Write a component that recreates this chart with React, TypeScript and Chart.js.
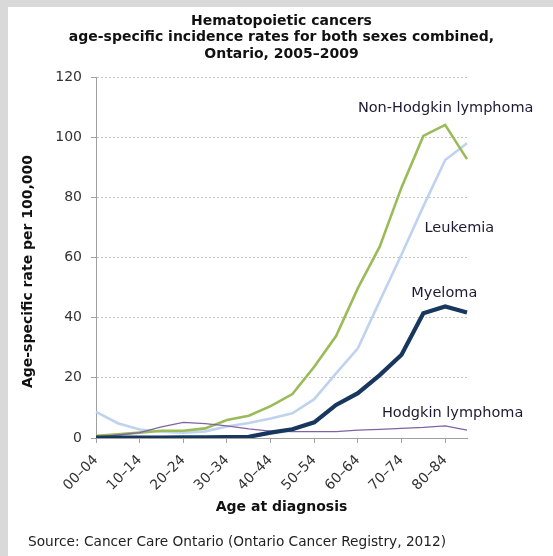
import { useEffect, useRef } from "react";
import { Chart, registerables } from "chart.js";

Chart.register(...registerables);

const categories = ["00–04", "05–09", "10–14", "15–19", "20–24", "25–29", "30–34", "35–39", "40–44", "45–49", "50–54", "55–59", "60–64", "65–69", "70–74", "75–79", "80–84", "85+"];
const nonHodgkin = [0.7, 1.2, 1.8, 2.4, 2.4, 3.2, 6.0, 7.4, 10.6, 14.6, 23.7, 33.9, 49.8, 63.6, 83.3, 100.4, 104.1, 92.7];
const leukemia = [8.7, 4.9, 2.8, 2.1, 1.8, 2.2, 3.8, 5.0, 6.5, 8.2, 12.9, 21.5, 29.8, 45.5, 61.0, 77.0, 92.4, 98.0];
const myeloma = [0.1, 0.1, 0.1, 0.1, 0.2, 0.2, 0.3, 0.4, 1.8, 2.9, 5.2, 11.0, 14.9, 20.9, 27.7, 41.5, 43.7, 41.7];
const hodgkin = [0.3, 1.0, 1.8, 3.7, 5.2, 4.8, 4.0, 3.0, 2.3, 2.1, 2.1, 2.1, 2.6, 2.9, 3.2, 3.5, 4.0, 2.6];
const yMin = 0;
const yMax = 120;
const yStep = 20;

const seriesNames = ["Non-Hodgkin lymphoma", "Leukemia", "Myeloma", "Hodgkin lymphoma"];
const labelAnchorIndex = [12.0, 15.05, 14.45, 13.1];
const labelAnchorValue = [109.7, 69.8, 48.2, 8.3];

const titleLines = ["Hematopoietic cancers", "age-specific incidence rates for both sexes combined,", "Ontario, 2005–2009"];
const yTitle = "Age-specific rate per 100,000";
const xTitle = "Age at diagnosis";
const sourceText = "Source: Cancer Care Ontario (Ontario Cancer Registry, 2012)";

const FONT = '"DejaVu Sans", Verdana, sans-serif';

const textPlugin = {
  id: "texts",
  beforeDraw(chart: any) {
    const { ctx, width, height } = chart;
    ctx.save();
    ctx.fillStyle = "#d9d9d9";
    ctx.fillRect(0, 0, width, height);
    ctx.fillStyle = "#ffffff";
    ctx.fillRect(8, 7, width - 8, height - 7);
    ctx.restore();
  },
  afterDraw(chart: any) {
    const { ctx, chartArea } = chart;
    const cx = (chartArea.left + chartArea.right) / 2;
    ctx.save();
    ctx.fillStyle = "#111111";
    ctx.textAlign = "center";
    ctx.textBaseline = "middle";
    ctx.font = `bold 14px ${FONT}`;
    titleLines.forEach((t, i) => ctx.fillText(t, cx, 21 + i * 16.5));
    ctx.fillText(xTitle, cx, 507);
    ctx.save();
    ctx.translate(28, (chartArea.top + chartArea.bottom) / 2 + 14);
    ctx.rotate(-Math.PI / 2);
    ctx.fillText(yTitle, 0, 0);
    ctx.restore();
    ctx.font = `13.7px ${FONT}`;
    ctx.textAlign = "left";
    ctx.fillStyle = "#222222";
    ctx.fillText(sourceText, 28, 542);
    const xs = chart.scales.x;
    const ys = chart.scales.y;
    ctx.font = `14.5px ${FONT}`;
    ctx.fillStyle = "#1e1a33";
    seriesNames.forEach((n, i) => {
      ctx.fillText(n, xs.getPixelForValue(labelAnchorIndex[i]), ys.getPixelForValue(labelAnchorValue[i]));
    });
    ctx.restore();
  },
};

export default function App() {
  const ref = useRef<HTMLCanvasElement>(null);
  useEffect(() => {
    document.body.style.margin = "0";
    const chart = new Chart(ref.current!, {
      type: "line",
      data: {
        labels: categories,
        datasets: [
          { label: seriesNames[2], data: myeloma, borderColor: "#17375e", borderWidth: 4.2 },
          { label: seriesNames[3], data: hodgkin, borderColor: "#8064a2", borderWidth: 1.3 },
          { label: seriesNames[0], data: nonHodgkin, borderColor: "#9bbb59", borderWidth: 2.6 },
          { label: seriesNames[1], data: leukemia, borderColor: "#bfd3ee", borderWidth: 2.6 },
        ].map((d) => ({ ...d, pointRadius: 0, tension: 0, fill: false })),
      },
      options: {
        animation: false,
        responsive: true,
        maintainAspectRatio: false,
        layout: { padding: { left: 51, right: 86, top: 77, bottom: 58 } },
        plugins: { legend: { display: false }, tooltip: { enabled: false }, title: { display: false } },
        scales: {
          x: {
            type: "category",
            offset: false,
            afterFit: (s: any) => { s.height = 60; },
            grid: {
              display: true,
              drawOnChartArea: false,
              tickLength: 5,
              tickColor: (c: any) => (c.index % 2 === 0 ? "#a0a0a0" : "rgba(0,0,0,0)"),
            },
            border: { color: "#a0a0a0", width: 1 },
            ticks: {
              autoSkip: false,
              minRotation: 45,
              maxRotation: 45,
              padding: 9,
              color: "#333333",
              font: { family: FONT, size: 14 },
              callback: (_v: any, i: number) => (i % 2 === 0 ? categories[i] : ""),
            },
          },
          y: {
            min: yMin,
            max: yMax,
            afterFit: (s: any) => { s.width = 45; },
            grid: { color: "#c4c4c4", tickColor: "#a0a0a0", tickLength: 5, lineWidth: 1 },
            border: { color: "#a0a0a0", width: 1, dash: [2, 2] },
            ticks: { stepSize: yStep, padding: 9, color: "#333333", font: { family: FONT, size: 14 } },
          },
        },
      },
      plugins: [textPlugin],
    });
    return () => chart.destroy();
  }, []);
  return (
    <div style={{ position: "fixed", left: 0, top: 0, width: 553, height: 556 }}>
      <canvas ref={ref} />
    </div>
  );
}
